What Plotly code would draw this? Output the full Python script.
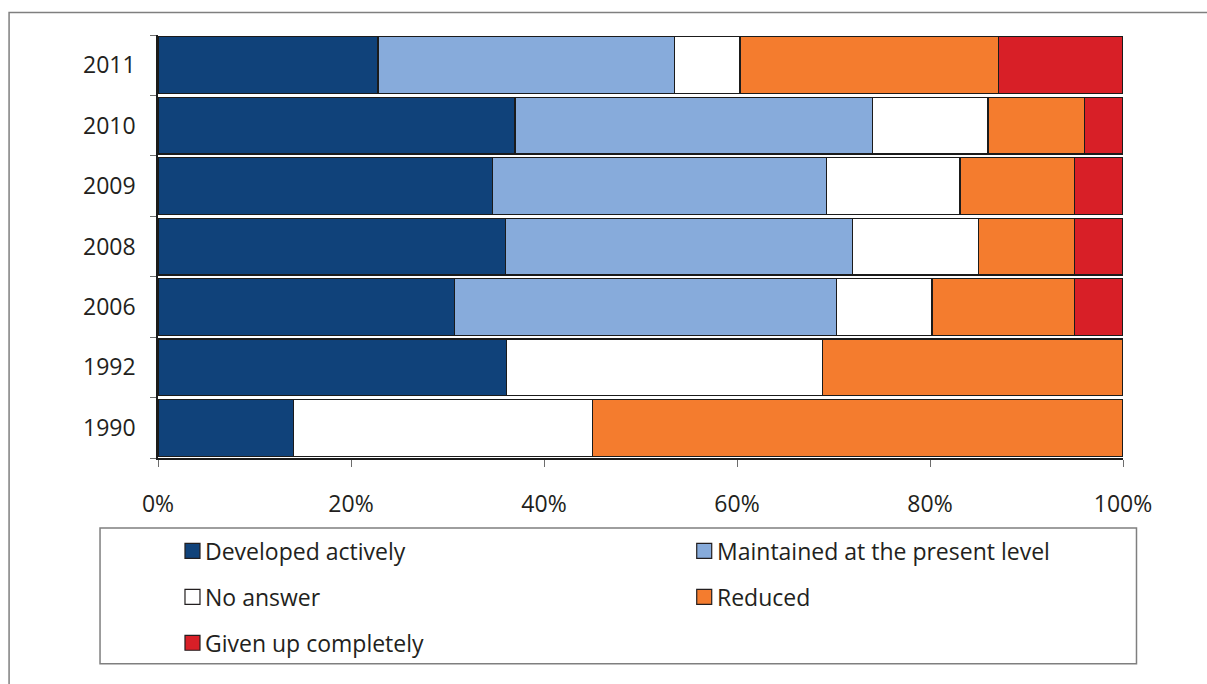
import plotly.graph_objects as go

years = ["1990", "1992", "2006", "2008", "2009", "2010", "2011"]
series_names = ["Developed actively", "Maintained at the present level",
                "No answer", "Reduced", "Given up completely"]
developed = [14.0, 36.1, 30.7, 36.0, 34.7, 37.0, 22.8]
maintained = [0.0, 0.0, 39.6, 36.0, 34.6, 37.0, 30.7]
no_answer = [31.0, 32.8, 9.9, 13.0, 13.8, 12.0, 6.8]
reduced = [55.0, 31.1, 14.8, 10.0, 11.9, 10.0, 26.8]
given_up = [0.0, 0.0, 5.0, 5.0, 5.0, 4.0, 12.9]
colors = ["#10427a", "#87abdb", "#ffffff", "#f47c2e", "#d81f27"]
x_ticks = [0, 20, 40, 60, 80, 100]
x_ticklabels = ["0%", "20%", "40%", "60%", "80%", "100%"]

series_values = [developed, maintained, no_answer, reduced, given_up]

W, H = 1207, 684
L, R, T, B = 158, 83.5, 34.5, 226
PW = W - L - R
PH = H - T - B


def px2x(px):
    return (px - L) / PW


def py2y(py):
    return (H - B - py) / PH


FONT = "Open Sans"
TXT = "#231f20"
FS = 23

fig = go.Figure()
for name, vals, col in zip(series_names, series_values, colors):
    fig.add_trace(go.Bar(
        name=name, y=years, x=vals, orientation="h",
        marker=dict(color=col, line=dict(color="#1b1b1b", width=1.2)),
        showlegend=False,
        hovertemplate="%{y}: %{x}%<extra>" + name + "</extra>",
    ))

shapes = []
annotations = []
# outer frame (page crop)
shapes.append(dict(type="rect", xref="paper", yref="paper",
                   x0=px2x(9), x1=px2x(1230), y0=py2y(720), y1=py2y(12),
                   line=dict(color="#7f7f7f", width=1.5), fillcolor="rgba(0,0,0,0)",
                   layer="below"))
# legend box
shapes.append(dict(type="rect", xref="paper", yref="paper",
                   x0=px2x(100), x1=px2x(1137), y0=py2y(664), y1=py2y(528),
                   line=dict(color="#7f7f7f", width=1.5), fillcolor="rgba(0,0,0,0)"))
for i, (name, col) in enumerate(zip(series_names, colors)):
    c, r = i % 2, i // 2
    sx = 185 + c * 512
    cy = 551 + r * 46
    shapes.append(dict(type="rect", xref="paper", yref="paper",
                       x0=px2x(sx), x1=px2x(sx + 15),
                       y0=py2y(cy + 7.5), y1=py2y(cy - 7.5),
                       line=dict(color="#231f20", width=1.2), fillcolor=col))
    annotations.append(dict(xref="paper", yref="paper", x=px2x(sx + 18), y=py2y(cy),
                            xanchor="left", yanchor="middle", showarrow=False,
                            text=name, font=dict(family=FONT, size=FS, color=TXT)))

fig.update_layout(
    width=W, height=H,
    margin=dict(l=L, r=R, t=T, b=B, pad=0),
    barmode="stack", bargap=0.06,
    paper_bgcolor="white", plot_bgcolor="white",
    font=dict(family=FONT, size=FS, color=TXT),
    shapes=shapes, annotations=annotations,
    showlegend=False,
)
fig.update_xaxes(range=[0, 100], tickvals=x_ticks, ticktext=x_ticklabels,
                 showgrid=False, zeroline=False, showline=True,
                 linecolor="#1b1b1b", linewidth=1.5,
                 ticks="outside", ticklen=7, tickcolor="#6d6d6d", tickwidth=1.2,
                 ticklabelstandoff=18,
                 tickfont=dict(family=FONT, size=FS, color=TXT))
fig.update_yaxes(type="category", categoryorder="array", categoryarray=years,
                 showgrid=False, zeroline=False, showline=True,
                 linecolor="#1b1b1b", linewidth=1.5,
                 ticks="outside", tickson="boundaries", ticklen=6,
                 tickcolor="#6d6d6d", tickwidth=1.2, ticklabelstandoff=16,
                 tickfont=dict(family=FONT, size=FS, color=TXT))

fig.write_html("out.html")
